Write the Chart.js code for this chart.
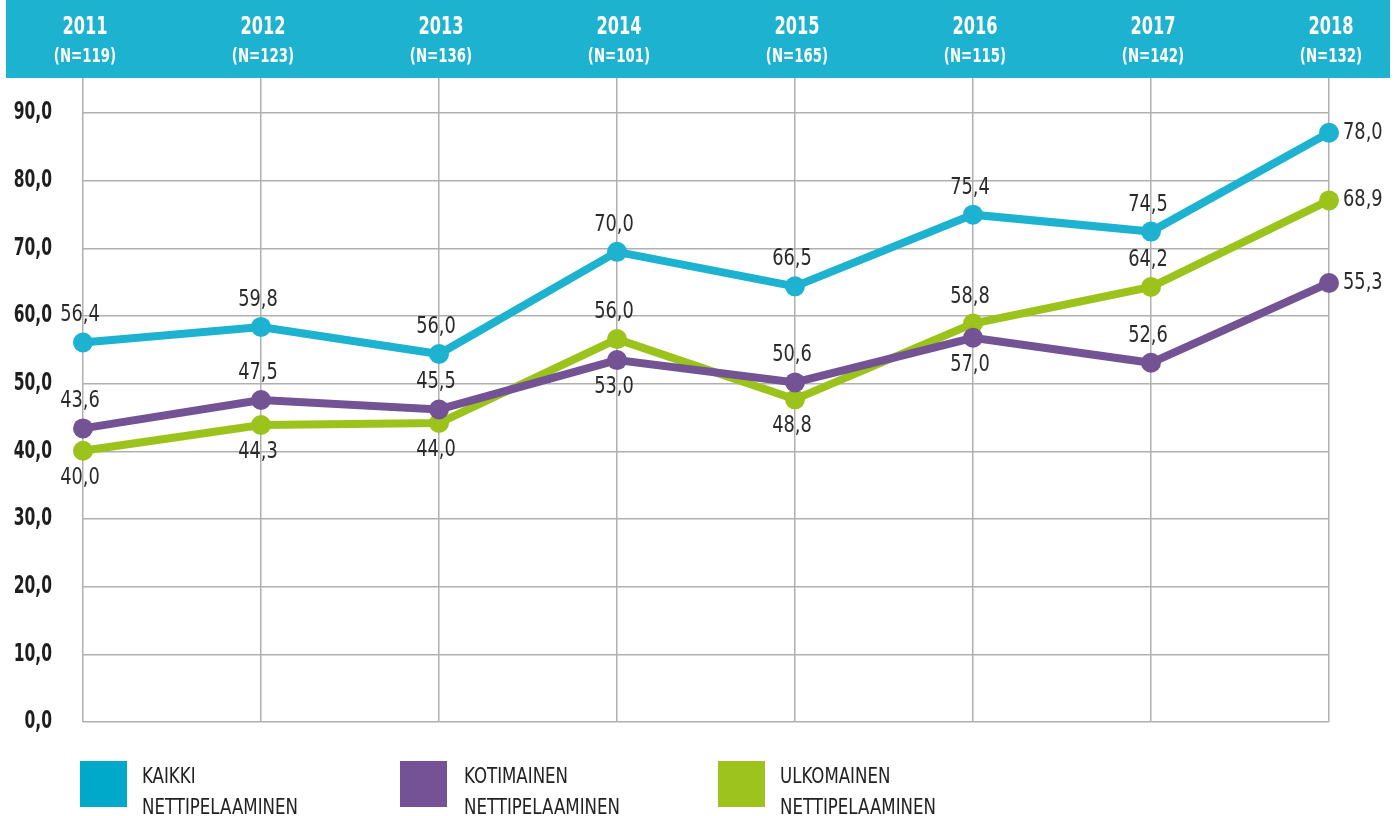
<!DOCTYPE html>
<html>
<head>
<meta charset="utf-8">
<script src="https://cdn.jsdelivr.net/npm/chart.js@4/dist/chart.umd.min.js"></script>
<style>
    body { margin: 0; background: #fff; }
    #wrap { position: relative; width: 1400px; height: 816px; }
    #chart { position: absolute; left: 0; top: 0; }
    .legend-item { position: absolute; top: 760px; }
    .legend-box { position: absolute; top: 1px; left: 0; width: 47px; height: 46px; }
    .legend-text {
        position: absolute; top: 0; white-space: nowrap;
        font-family: 'DejaVu Sans Condensed', 'Liberation Sans', sans-serif;
        font-size: 22px; line-height: 31px; color: #222;
        transform: scaleX(0.84); transform-origin: left top;
    }
</style>
</head>
<body>
<div id="wrap">
    <canvas id="chart" width="1400" height="816"></canvas>
    <div id="legend"></div>
</div>
<script>
const FONT = "'DejaVu Sans Condensed', 'Liberation Sans', sans-serif";

// Categories and header labels
const years = ['2011', '2012', '2013', '2014', '2015', '2016', '2017', '2018'];
const nLabels = ['(N=119)', '(N=123)', '(N=136)', '(N=101)', '(N=165)', '(N=115)', '(N=142)', '(N=132)'];

// Plotted positions
const kaikki = [56.1, 58.4, 54.4, 69.5, 64.4, 75.0, 72.5, 87.1];
const kotimainen = [43.4, 47.6, 46.2, 53.5, 50.2, 56.8, 53.1, 64.9];
const ulkomainen = [40.1, 43.9, 44.2, 56.6, 47.7, 58.9, 64.3, 77.1];

// Printed value labels
const kaikkiLabels = ['56,4', '59,8', '56,0', '70,0', '66,5', '75,4', '74,5', '78,0'];
const kotimainenLabels = ['43,6', '47,5', '45,5', '53,0', '50,6', '57,0', '52,6', '55,3'];
const ulkomainenLabels = ['40,0', '44,3', '44,0', '56,0', '48,8', '58,8', '64,2', '68,9'];

// Where each value label sits relative to its point
const kaikkiPlace = ['up', 'up', 'up', 'up', 'up', 'up', 'up', 'right'];
const kotimainenPlace = ['up', 'up', 'up', 'down', 'up', 'down', 'up', 'right'];
const ulkomainenPlace = ['down', 'down', 'down', 'up', 'down', 'up', 'up', 'right'];

const seriesNames = [['KAIKKI', 'NETTIPELAAMINEN'], ['KOTIMAINEN', 'NETTIPELAAMINEN'], ['ULKOMAINEN', 'NETTIPELAAMINEN']];
const seriesColors = ['#1db2cf', '#735394', '#9bc31b'];
const legendColors = ['#00a9c9', '#745295', '#9dc41e'];

// No narrow font installed, so squeeze text horizontally
function drawNarrow(ctx, text, x, y, align, sx) {
    ctx.save();
    ctx.translate(x, y);
    ctx.scale(sx, 1);
    ctx.textAlign = align;
    ctx.textBaseline = 'middle';
    ctx.fillText(text, 0, 0);
    ctx.restore();
}

// Header band with years and N counts
const headerPlugin = {
    id: 'header',
    beforeDraw(chart) {
        const ctx = chart.ctx;
        ctx.save();
        ctx.fillStyle = '#1db2cf';
        ctx.fillRect(6, 0, 1384, 78);
        ctx.restore();
    },
    afterDraw(chart) {
        const ctx = chart.ctx;
        const x = chart.scales.x;
        ctx.save();
        ctx.fillStyle = '#fff';
        years.forEach((y, i) => {
            const px = x.getPixelForValue(i);
            ctx.font = 'bold 25px ' + FONT;
            drawNarrow(ctx, y, px + 2, 27, 'center', 0.72);
            ctx.font = 'bold 20px ' + FONT;
            drawNarrow(ctx, nLabels[i], px + 2, 57, 'center', 0.74);
        });
        ctx.restore();
    }
};

// Y axis tick labels, drawn from the scale's own ticks
const yLabelPlugin = {
    id: 'yLabels',
    afterDraw(chart) {
        const ctx = chart.ctx;
        const y = chart.scales.y;
        ctx.save();
        ctx.fillStyle = '#1e1e1e';
        ctx.font = 'bold 24px ' + FONT;
        y.ticks.forEach((t) => {
            drawNarrow(ctx, t.value.toFixed(1).replace('.', ','), 52, y.getPixelForValue(t.value), 'right', 0.72);
        });
        ctx.restore();
    }
};

// Value labels next to points
const valueLabelPlugin = {
    id: 'valueLabels',
    afterDatasetsDraw(chart) {
        const ctx = chart.ctx;
        ctx.save();
        ctx.font = '23px ' + FONT;
        ctx.fillStyle = '#2a2a2a';
        chart.data.datasets.forEach((ds, di) => {
            const meta = chart.getDatasetMeta(di);
            meta.data.forEach((pt, i) => {
                const place = ds.place[i];
                const text = ds.valueLabels[i];
                if (place === 'right') {
                    drawNarrow(ctx, text, pt.x + 14, pt.y, 'left', 0.86);
                } else if (place === 'up') {
                    drawNarrow(ctx, text, pt.x - 3, pt.y - 27, 'center', 0.86);
                } else {
                    drawNarrow(ctx, text, pt.x - 3, pt.y + 27, 'center', 0.86);
                }
            });
        });
        ctx.restore();
    }
};

function makeDataset(label, data, color, valueLabels, place, order) {
    return {
        label: label,
        data: data,
        borderColor: color,
        backgroundColor: color,
        borderWidth: 8,
        pointRadius: 10,
        pointHoverRadius: 10,
        pointBackgroundColor: color,
        pointBorderWidth: 0,
        tension: 0,
        clip: false,
        order: order,
        valueLabels: valueLabels,
        place: place
    };
}

const ctx = document.getElementById('chart').getContext('2d');
new Chart(ctx, {
    type: 'line',
    data: {
        labels: years,
        datasets: [
            makeDataset('Kaikki nettipelaaminen', kaikki, seriesColors[0], kaikkiLabels, kaikkiPlace, 2),
            makeDataset('Ulkomainen nettipelaaminen', ulkomainen, seriesColors[2], ulkomainenLabels, ulkomainenPlace, 1),
            makeDataset('Kotimainen nettipelaaminen', kotimainen, seriesColors[1], kotimainenLabels, kotimainenPlace, 0)
        ]
    },
    options: {
        responsive: false,
        animation: false,
        layout: { padding: { top: 78, bottom: 94, right: 71, left: 0 } },
        plugins: {
            legend: { display: false },
            tooltip: { enabled: false }
        },
        scales: {
            x: {
                offset: false,
                ticks: { display: false },
                grid: { color: '#b0b0b0', lineWidth: 1.5, drawTicks: false },
                border: { display: false },
                afterFit: (scale) => { scale.height = 0; }
            },
            y: {
                min: 0,
                max: 95.2,
                ticks: { stepSize: 10, display: false },
                afterBuildTicks: (scale) => {
                    scale.ticks = scale.ticks.filter(t => t.value <= 90);
                },
                grid: { color: '#b0b0b0', lineWidth: 1.5, drawTicks: false },
                border: { display: false },
                afterFit: (scale) => { scale.width = 83; }
            }
        }
    },
    plugins: [headerPlugin, yLabelPlugin, valueLabelPlugin]
});

// Two-line HTML legend
const legendDiv = document.getElementById('legend');
const legendLeft = [80, 400, 718];
const legendTextOffset = [62, 64, 62];
seriesNames.forEach((name, i) => {
    const item = document.createElement('div');
    item.className = 'legend-item';
    item.style.left = legendLeft[i] + 'px';
    item.innerHTML = `
        <div class="legend-box" style="background:${legendColors[i]}"></div>
        <div class="legend-text" style="left:${legendTextOffset[i]}px">${name[0]}<br>${name[1]}</div>
    `;
    legendDiv.appendChild(item);
});
</script>
</body>
</html>
